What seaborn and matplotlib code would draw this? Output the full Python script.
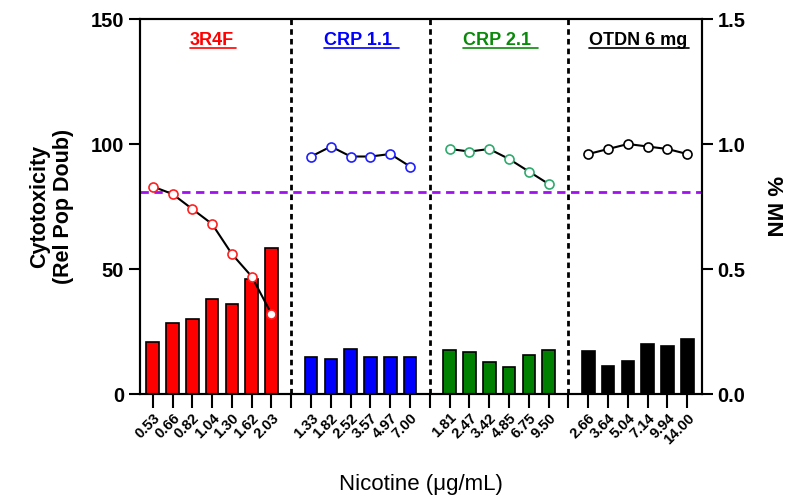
import numpy as np
import pandas as pd
import matplotlib
matplotlib.use("Agg")
import matplotlib.pyplot as plt
from matplotlib.lines import Line2D
import seaborn as sns

groups = ["3R4F", "CRP 1.1", "CRP 2.1", "OTDN 6 mg"]
title_text = ["3R4F", "CRP 1.1 ", "CRP 2.1 ", "OTDN 6 mg"]
bar_colors = ["#ff0000", "#0000ff", "#008000", "#000000"]
title_colors = ["#ff0000", "#0000ff", "#0a8a0a", "#000000"]
marker_colors = ["#ff2020", "#2020ff", "#2eaa6e", "#000000"]

doses_3r4f = ["0.53", "0.66", "0.82", "1.04", "1.30", "1.62", "2.03"]
doses_crp11 = ["1.33", "1.82", "2.52", "3.57", "4.97", "7.00"]
doses_crp21 = ["1.81", "2.47", "3.42", "4.85", "6.75", "9.50"]
doses_otdn = ["2.66", "3.64", "5.04", "7.14", "9.94", "14.00"]

cyto_3r4f = [21, 28.5, 30, 38, 36, 46, 58.5]
cyto_crp11 = [15, 14, 18, 15, 15, 15]
cyto_crp21 = [17.6, 16.8, 12.8, 10.8, 15.7, 17.6]
cyto_otdn = [17.2, 11.2, 13.1, 20, 19.2, 22.2]

mn_3r4f = [0.83, 0.80, 0.74, 0.68, 0.56, 0.47, 0.32]
mn_crp11 = [0.95, 0.99, 0.95, 0.95, 0.96, 0.91]
mn_crp21 = [0.98, 0.97, 0.98, 0.94, 0.89, 0.84]
mn_otdn = [0.96, 0.98, 1.00, 0.99, 0.98, 0.96]

mn_threshold = 0.81

all_doses = [doses_3r4f, doses_crp11, doses_crp21, doses_otdn]
all_cyto = [cyto_3r4f, cyto_crp11, cyto_crp21, cyto_otdn]
all_mn = [mn_3r4f, mn_crp11, mn_crp21, mn_otdn]

# build category order with an empty slot between groups
order = []
tick_labels = []
gap_pos = []
rows = []
for g, (name, doses, cyto, mn) in enumerate(zip(groups, all_doses, all_cyto, all_mn)):
    if g > 0:
        gap_pos.append(len(order))
        order.append(" " * g)
        tick_labels.append("")
    for d, c, m in zip(doses, cyto, mn):
        key = name + "_" + d
        rows.append({"key": key, "group": name, "dose": d, "cyto": c, "mn": m, "pos": len(order)})
        order.append(key)
        tick_labels.append(d)
df = pd.DataFrame(rows)

sns.set_style("ticks", rc={"axes.edgecolor": "black", "text.color": "black",
                           "axes.labelcolor": "black", "xtick.color": "black",
                           "ytick.color": "black"})
plt.rcParams["font.family"] = ["Liberation Sans", "DejaVu Sans"]

fig = plt.figure(figsize=(8.02, 4.95), dpi=100)
ax = fig.add_axes([0.1746, 0.204, 0.7004, 0.7576])

sns.barplot(data=df, x="key", y="cyto", hue="group", order=order, hue_order=groups,
            palette=dict(zip(groups, bar_colors)), dodge=False, width=0.64, saturation=1,
            edgecolor="black", linewidth=1.2, legend=False, ax=ax)

for p in gap_pos:
    ax.axvline(p, color="black", ls=(0, (2, 1.5)), lw=2, zorder=3)

ax.set_xlim(-0.64, len(order) - 1 + 0.73)
ax.set_ylim(0, 150)
ax.set_yticks([0, 50, 100, 150])
ax.set_xticks(range(len(order)))
ax.set_xticklabels(tick_labels, rotation=45, ha="right", rotation_mode="anchor",
                   fontsize=10.5, fontweight="bold")
ax.tick_params(axis="x", length=10, width=1.5, pad=2)
ax.tick_params(axis="y", length=8, width=1.5, labelsize=14.5)
for t in ax.get_yticklabels():
    t.set_fontweight("bold")
ax.set_xlabel("Nicotine (\u03bcg/mL)", fontsize=16, labelpad=20)
ax.set_ylabel("Cytotoxicity\n(Rel Pop Doub)", fontsize=15.5, fontweight="bold", labelpad=12)

ax2 = ax.twinx()
for name, mc in zip(groups, marker_colors):
    sub = df[df["group"] == name]
    sns.lineplot(x=sub["pos"], y=sub["mn"], color="black", lw=1.5, marker="o",
                 markersize=6.5, markerfacecolor="white", markeredgecolor=mc,
                 markeredgewidth=1.2, ax=ax2, zorder=4)
ax2.axhline(mn_threshold, color="#a010f0", ls=(0, (3, 2)), lw=2, zorder=2)
ax2.set_ylim(0, 1.5)
ax2.set_yticks([0, 0.5, 1.0, 1.5])
ax2.set_yticklabels(["0.0", "0.5", "1.0", "1.5"])
ax2.tick_params(axis="y", length=8, width=1.5, labelsize=14.5)
for t in ax2.get_yticklabels():
    t.set_fontweight("bold")
ax2.set_ylabel("% MN", fontsize=16, fontweight="bold", rotation=270, labelpad=27)
ax2.set_xlabel("")

for a in (ax, ax2):
    for s in a.spines.values():
        s.set_linewidth(1.5)
        s.set_visible(True)

# group titles, underlined
title_y = 139.5
titles = []
for name, txt, col in zip(groups, title_text, title_colors):
    center = df[df["group"] == name]["pos"].mean()
    t = ax.text(center, title_y, txt, ha="center", va="baseline", color=col,
                fontsize=13, fontweight="bold")
    titles.append(t)

fig.canvas.draw()
r = fig.canvas.get_renderer()
for t in titles:
    bb = t.get_window_extent(r).transformed(fig.transFigure.inverted())
    base = ax.transData.transform((0, title_y))
    yb = fig.transFigure.inverted().transform(base)[1] - 3 / 495
    fig.add_artist(Line2D([bb.x0, bb.x1 + 2 / 802], [yb, yb], color=t.get_color(), lw=1.2))

fig.savefig("out.png", dpi=100)
